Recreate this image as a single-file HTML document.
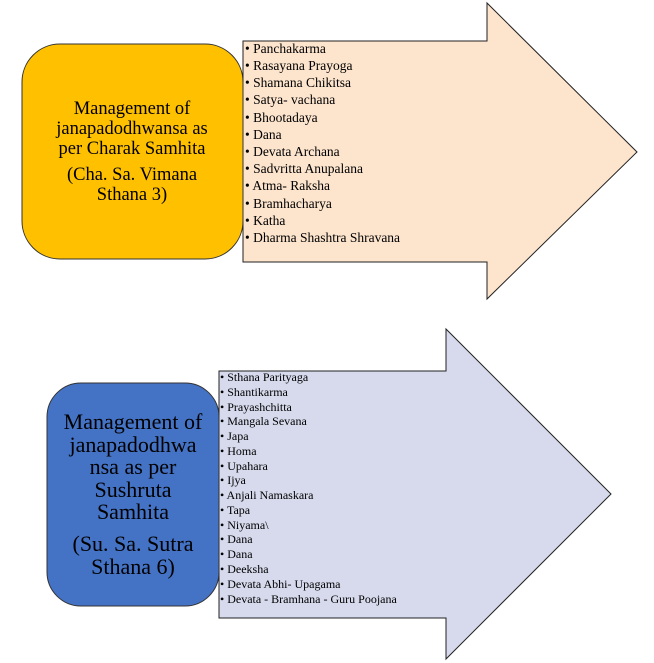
<!DOCTYPE html>
<html><head><meta charset="utf-8"><style>
html,body{margin:0;padding:0;background:#fff;}
svg{display:block;}
text{font-family:"Liberation Serif",serif;fill:#000;}
</style></head><body>
<svg width="654" height="663" viewBox="0 0 654 663" xmlns="http://www.w3.org/2000/svg">
<!-- top arrow -->
<polygon points="243,41 487,41 487,3 637,152 487,299 487,262 243,262" fill="#FCE4CD" stroke="#222" stroke-width="1"/>
<rect x="22" y="44" width="221" height="215" rx="38" ry="38" fill="#FFC000" stroke="#333" stroke-width="1"/>
<g font-size="18.5" text-anchor="middle">
<text x="132" y="114">Management of</text>
<text x="132" y="134">janapadodhwansa as</text>
<text x="132" y="154">per Charak Samhita</text>
<text x="132" y="180">(Cha. Sa. Vimana</text>
<text x="132" y="200">Sthana 3)</text>
</g>
<g font-size="13.5">
<text x="245" y="53">• Panchakarma</text>
<text x="245" y="70">•  Rasayana Prayoga</text>
<text x="245" y="87">•  Shamana Chikitsa</text>
<text x="245" y="104">• Satya- vachana</text>
<text x="245" y="122">• Bhootadaya</text>
<text x="245" y="139">• Dana</text>
<text x="245" y="156">• Devata Archana</text>
<text x="245" y="173">•  Sadvritta Anupalana</text>
<text x="245" y="190">•  Atma- Raksha</text>
<text x="245" y="208">• Bramhacharya</text>
<text x="245" y="225">• Katha</text>
<text x="245" y="242">•  Dharma Shashtra Shravana</text>
</g>
<!-- bottom arrow -->
<polygon points="219,371 446,371 446,329 611,494 446,659 446,618 219,618" fill="#D6DAEC" stroke="#222" stroke-width="1"/>
<rect x="47" y="383" width="172" height="223" rx="34" ry="34" fill="#4472C4" stroke="#333" stroke-width="1"/>
<g font-size="22" text-anchor="middle">
<text x="133" y="429">Management of</text>
<text x="133" y="452">janapadodhwa</text>
<text x="133" y="474">nsa as per</text>
<text x="133" y="497">Sushruta</text>
<text x="133" y="519">Samhita</text>
<text x="133" y="551">(Su. Sa. Sutra</text>
<text x="133" y="574">Sthana 6)</text>
</g>
<g font-size="12">
<text x="220" y="381">•  Sthana Parityaga</text>
<text x="220" y="396">•  Shantikarma</text>
<text x="220" y="411">•  Prayashchitta</text>
<text x="220" y="425">•  Mangala Sevana</text>
<text x="220" y="440">•  Japa</text>
<text x="220" y="455">•  Homa</text>
<text x="220" y="470">•  Upahara</text>
<text x="220" y="484">•  Ijya</text>
<text x="220" y="499">•  Anjali Namaskara</text>
<text x="220" y="514">•  Tapa</text>
<text x="220" y="529">•  Niyama\</text>
<text x="220" y="543">•  Dana</text>
<text x="220" y="558">•  Dana</text>
<text x="220" y="573">•  Deeksha</text>
<text x="220" y="588">•  Devata Abhi- Upagama</text>
<text x="220" y="603">• Devata - Bramhana - Guru Poojana</text>
</g>
</svg>
</body></html>
